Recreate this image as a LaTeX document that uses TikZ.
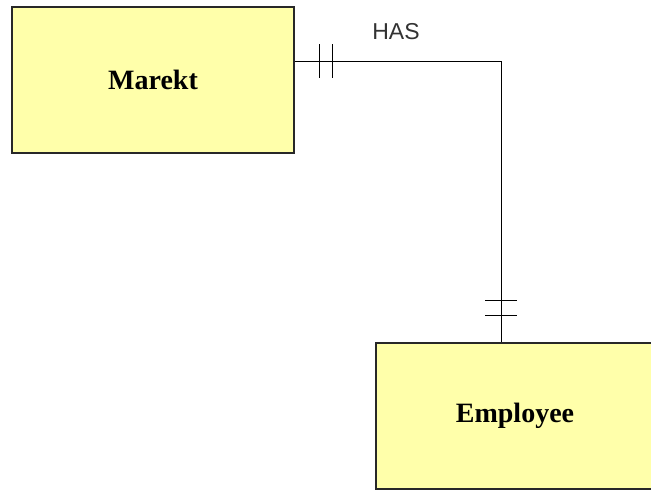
\documentclass[tikz,border=0pt]{standalone}
\usepackage{fontspec}
\setmainfont{Liberation Serif}
\newfontfamily\labelfont{Liberation Sans}
\usetikzlibrary{positioning,calc}
\definecolor{entfill}{RGB}{255,255,170}
\definecolor{entline}{RGB}{40,40,40}

\begin{document}
\begin{tikzpicture}[x=1pt, y=-1pt,
    entity/.style={draw=entline, line width=1.4pt, fill=entfill, minimum width=282pt,
                   minimum height=146pt, inner sep=0pt, font=\fontsize{28}{30}\selectfont\bfseries},
    relline/.style={draw=black, line width=1pt},
    tick/.style={draw=black, line width=1pt}]
    \useasboundingbox (0,0) rectangle (651,490);
    % --- entities ---
    \node[entity] (marekt) at (153,80) {Marekt};
    \node[entity, minimum width=278pt, minimum height=146pt] (employee) at (515,416) {Employee};
    % --- relationship line ---
    \coordinate (bend) at (501,61);
    \draw[relline] (marekt.east |- bend) -- (bend) -- (bend |- employee.north);
    \node[font=\labelfont\fontsize{23}{25}\selectfont, text=black!80] (has) at (396,32) {HAS};
    % --- one-and-only-one marks ---
    \draw[tick] ($(marekt.east |- bend)+(25,-17)$) -- ++(0,34);
    \draw[tick] ($(marekt.east |- bend)+(38,-17)$) -- ++(0,34);
    \draw[tick] ($(bend |- employee.north)+(-16,-42)$) -- ++(32,0);
    \draw[tick] ($(bend |- employee.north)+(-16,-27)$) -- ++(32,0);
\end{tikzpicture}
\end{document}
